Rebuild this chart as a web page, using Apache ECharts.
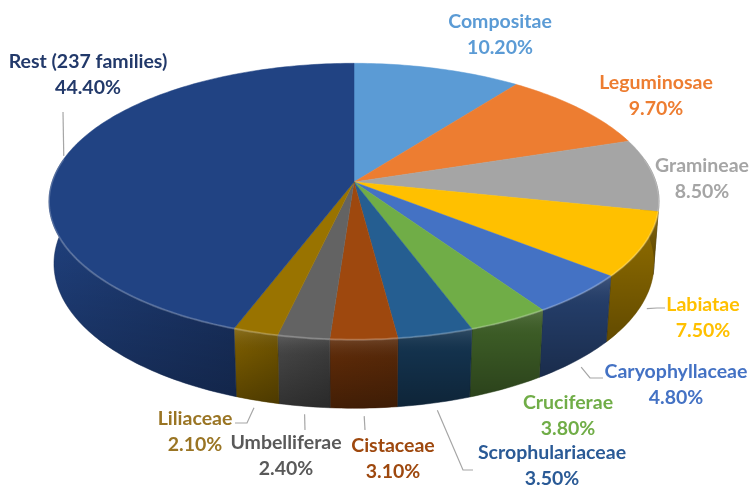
<!DOCTYPE html>
<html>
<head>
<meta charset="utf-8">
<script src="https://cdn.jsdelivr.net/npm/echarts@6/dist/echarts.min.js"></script>
<style>
  html, body { margin: 0; padding: 0; background: #fff; }
  #chart { width: 751px; height: 486px; }
</style>
</head>
<body>
<div id="chart"></div>
<script>
var families = ['Compositae', 'Leguminosae', 'Gramineae', 'Labiatae', 'Caryophyllaceae', 'Cruciferae',
    'Scrophulariaceae', 'Cistaceae', 'Umbelliferae', 'Liliaceae', 'Rest (237 families)'];
var shares = [10.2, 9.7, 8.5, 7.5, 4.8, 3.8, 3.5, 3.1, 2.4, 2.1, 44.4];

var sliceColors = ['#5B9BD5', '#ED7D31', '#A5A5A5', '#FFC000', '#4472C4', '#70AD47',
    '#255E91', '#9E480E', '#636363', '#997300', '#214383'];
var textColors = ['#5B9BD5', '#ED7D31', '#A5A5A5', '#FFC000', '#4472C4', '#70AD47',
    '#2A5A96', '#9E480E', '#595959', '#9A7524', '#22396A'];

/* ---------- layout (label centres, leader points) ---------- */
var labelPos = [[500, 35], [656, 96], [702, 179], [703, 318], [676, 385], [568, 416],
    [552, 466], [393, 459], [286, 456], [195, 432], [88, 75]];
var leaderPts = [null, null, null, [[665, 308], [657, 308]], [[603, 378], [590, 378]], null,
    [[473, 470], [463, 470]], [[365, 430]], [[305, 430]], [[235, 423], [247, 423]], [[63, 112]]];

// 3d view of the disc
var CX = 354, CY = 182, R = 302, H = 70;
var SIN_A = 0.4485, COS_A = 0.894, DIST = 1913;

function project(deg, y, r) {
    var t = deg * Math.PI / 180;
    r = r || R;
    var X = r * Math.sin(t), Z = r * Math.cos(t);
    var v = Z * SIN_A + y * COS_A;
    var d = Z * COS_A - y * SIN_A;
    var s = DIST / (DIST + d);
    return [CX + X * s, CY - v * s];
}

function arc(a0, a1, y) {
    var pts = [];
    var n = Math.max(2, Math.ceil(Math.abs(a1 - a0)));
    for (var k = 0; k <= n; k++) {
        pts.push(project(a0 + (a1 - a0) * k / n, y));
    }
    return pts;
}

function shade(hex, f) {
    var c = echarts.color.parse(hex);
    return 'rgb(' + Math.min(255, Math.round(c[0] * f)) + ',' + Math.min(255, Math.round(c[1] * f)) + ','
        + Math.min(255, Math.round(c[2] * f)) + ')';
}

// light comes from the left: walls facing left are brighter
function light(deg) {
    if (deg <= 180) return 0.55;
    if (deg >= 215) return 1.0;
    return 0.55 + 0.45 * (deg - 180) / 35;
}

var starts = [];
var acc = 0;
for (var i = 0; i < shares.length; i++) {
    starts.push(acc);
    acc += shares[i];
}

function renderSlice(params, api) {
    var i = params.dataIndex;
    var a0 = starts[i] * 3.6;
    var a1 = (starts[i] + api.value(0)) * 3.6;
    var color = sliceColors[i];
    var children = [];

    // outer wall, only the side facing us
    var w0 = Math.max(a0, 80), w1 = Math.min(a1, 280);
    if (w1 > w0) {
        var top = arc(w0, w1, 0);
        var bottom = arc(w0, w1, -H).reverse();
        var pts = top.concat(bottom);
        // x runs left to right across the bbox, angle runs right to left on the front
        var fl = light(Math.min(w1, 262)), fr = light(Math.max(w0, 98));
        children.push({
            type: 'polygon',
            z2: 1,
            shape: { points: pts },
            style: {
                fill: new echarts.graphic.LinearGradient(0, 0, 1, 0, [
                    { offset: 0, color: shade(color, fl) },
                    { offset: 1, color: shade(color, fr) }
                ]),
                stroke: shade(color, (fl + fr) / 2 * 0.8),
                lineWidth: 0.5
            }
        });
        children.push({
            type: 'polygon',
            z2: 1.5,
            shape: { points: pts },
            style: {
                fill: new echarts.graphic.LinearGradient(0, 0, 0, 1, [
                    { offset: 0, color: 'rgba(255,255,255,0.12)' },
                    { offset: 0.3, color: 'rgba(0,0,0,0.05)' },
                    { offset: 1, color: 'rgba(0,0,0,0.3)' }
                ])
            }
        });
        children.push({
            type: 'polyline',
            z2: 3,
            shape: { points: top },
            style: { stroke: 'rgba(255,255,255,0.22)', lineWidth: 2, fill: null }
        });
    }

    // top face
    children.push({
        type: 'polygon',
        z2: 2,
        shape: { points: [[CX, CY]].concat(arc(a0, a1, 0)) },
        style: { fill: color, stroke: color, lineWidth: 0.5 }
    });

    // label
    var lp = labelPos[i];
    children.push({
        type: 'text',
        z2: 10,
        x: lp[0],
        y: lp[1],
        style: {
            text: families[i] + '\n' + api.value(0).toFixed(2) + '%',
            fill: textColors[i],
            font: 'bold 19.5px Lato, "Open Sans", sans-serif',
            align: 'center',
            verticalAlign: 'middle',
            lineHeight: 26
        }
    });

    // leader line to the rim
    if (leaderPts[i]) {
        var mid = (a0 + a1) / 2;
        var front = Math.cos(mid * Math.PI / 180) < 0;
        var rim = project(mid, front ? -H : 0);
        var lpts = leaderPts[i];
        var last = lpts[lpts.length - 1];
        var dx = last[0] - rim[0], dy = last[1] - rim[1];
        var len = Math.sqrt(dx * dx + dy * dy);
        var gap = front ? 8 : 3;
        var end = [rim[0] + dx / len * gap, rim[1] + dy / len * gap];
        children.push({
            type: 'polyline',
            z2: 9,
            shape: { points: lpts.concat([end]) },
            style: { stroke: '#A6A6A6', lineWidth: 1.2, fill: null }
        });
    }

    return { type: 'group', children: children };
}

var pieChart = echarts.init(document.getElementById('chart'));

var option = {
    backgroundColor: '#fff',
    animation: false,
    series: [{
        type: 'custom',
        coordinateSystem: 'none',
        silent: true,
        renderItem: renderSlice,
        data: shares.map(function (v) { return [v]; })
    }]
};

pieChart.setOption(option);
</script>
</body>
</html>
